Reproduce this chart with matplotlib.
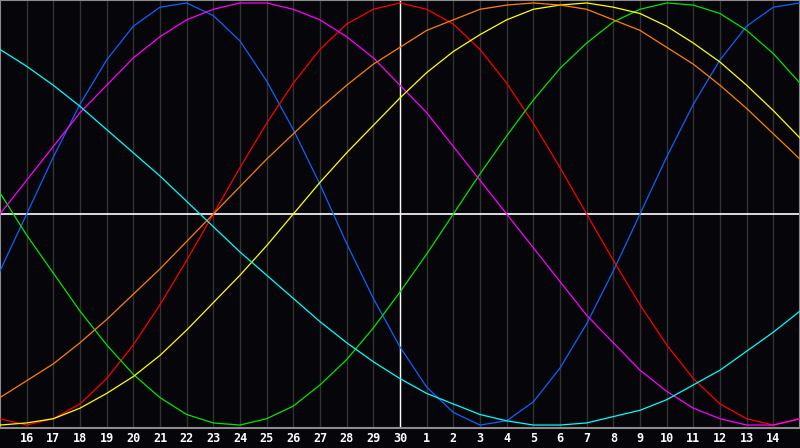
import matplotlib
matplotlib.use('Agg')
import matplotlib.pyplot as plt

# day numbers along the bottom, left edge to right edge
day_labels = ['15', '16', '17', '18', '19', '20', '21', '22', '23', '24', '25',
              '26', '27', '28', '29', '30', '1', '2', '3', '4', '5', '6', '7',
              '8', '9', '10', '11', '12', '13', '14', '15']

# cycle values per day (-1 .. 1)
physical = [-0.27, 0.00, 0.27, 0.52, 0.73, 0.89, 0.98, 1.00, 0.94, 0.82, 0.63,
            0.40, 0.14, -0.14, -0.40, -0.63, -0.82, -0.94, -1.00, -0.98, -0.89,
            -0.73, -0.52, -0.27, 0.00, 0.27, 0.52, 0.73, 0.89, 0.98, 1.00]
emotional = [-0.97, -1.00, -0.97, -0.90, -0.78, -0.62, -0.43, -0.22, 0.00, 0.22,
             0.43, 0.62, 0.78, 0.90, 0.97, 1.00, 0.97, 0.90, 0.78, 0.62, 0.43,
             0.22, 0.00, -0.22, -0.43, -0.62, -0.78, -0.90, -0.97, -1.00, -0.97]
intellectual = [0.10, -0.10, -0.28, -0.46, -0.62, -0.76, -0.87, -0.95, -0.99,
                -1.00, -0.97, -0.91, -0.81, -0.69, -0.54, -0.37, -0.19, 0.00,
                0.19, 0.37, 0.54, 0.69, 0.81, 0.91, 0.97, 1.00, 0.99, 0.95,
                0.87, 0.76, 0.62]
intuitive = [0.00, 0.16, 0.32, 0.48, 0.61, 0.74, 0.84, 0.92, 0.97, 1.00, 1.00,
             0.97, 0.92, 0.84, 0.74, 0.61, 0.48, 0.32, 0.16, 0.00, -0.16, -0.32,
             -0.48, -0.61, -0.74, -0.84, -0.92, -0.97, -1.00, -1.00, -0.97]
aesthetic = [-1.00, -0.99, -0.97, -0.92, -0.85, -0.77, -0.67, -0.55, -0.42,
             -0.29, -0.15, 0.00, 0.15, 0.29, 0.42, 0.55, 0.67, 0.77, 0.85, 0.92,
             0.97, 0.99, 1.00, 0.98, 0.95, 0.89, 0.81, 0.72, 0.61, 0.49, 0.36]
awareness = [-0.87, -0.79, -0.71, -0.61, -0.50, -0.38, -0.26, -0.13, 0.00, 0.13,
             0.26, 0.38, 0.50, 0.61, 0.71, 0.79, 0.87, 0.92, 0.97, 0.99, 1.00,
             0.99, 0.97, 0.92, 0.87, 0.79, 0.71, 0.61, 0.50, 0.38, 0.26]
spiritual = [0.78, 0.70, 0.61, 0.51, 0.40, 0.29, 0.18, 0.06, -0.06, -0.18, -0.29,
             -0.40, -0.51, -0.61, -0.70, -0.78, -0.85, -0.90, -0.95, -0.98, -1.00,
             -1.00, -0.99, -0.96, -0.93, -0.88, -0.81, -0.74, -0.65, -0.56, -0.46]

series = [(physical, '#0a64ff'), (emotional, '#ff0000'), (intellectual, '#00e600'),
          (intuitive, '#ff00ff'), (aesthetic, '#ffff00'), (awareness, '#ff8000'),
          (spiritual, '#00ffff')]

bg = '#060509'
fig = plt.figure(figsize=(8, 4.48), dpi=100, facecolor=bg)
ax = fig.add_axes([0, 20/448, 1, 428/448])
ax.set_facecolor(bg)

x = list(range(len(day_labels)))
for d in x[1:-1]:
    ax.axvline(d, color='#333333', lw=1, zorder=1)
ax.axvline(15, color='white', lw=1, zorder=2)
ax.axhline(0, color='white', lw=1.2, zorder=2)

for vals, col in series:
    ax.plot(x, vals, color=col, lw=0.9, zorder=3)

ax.set_xlim(0, 30)
ax.set_ylim(-1.014, 1.014)
ax.set_yticks([])
ax.set_xticks(x[1:-1])
ax.set_xticklabels(day_labels[1:-1], color='white', fontsize=8.5,
                   fontweight='bold', family='DejaVu Sans Mono')
ax.tick_params(axis='x', length=0, pad=3)
for s in ax.spines.values():
    s.set_color('#8c8c8c')
    s.set_linewidth(1.5)

fig.savefig('out.png', dpi=100, facecolor=bg)
